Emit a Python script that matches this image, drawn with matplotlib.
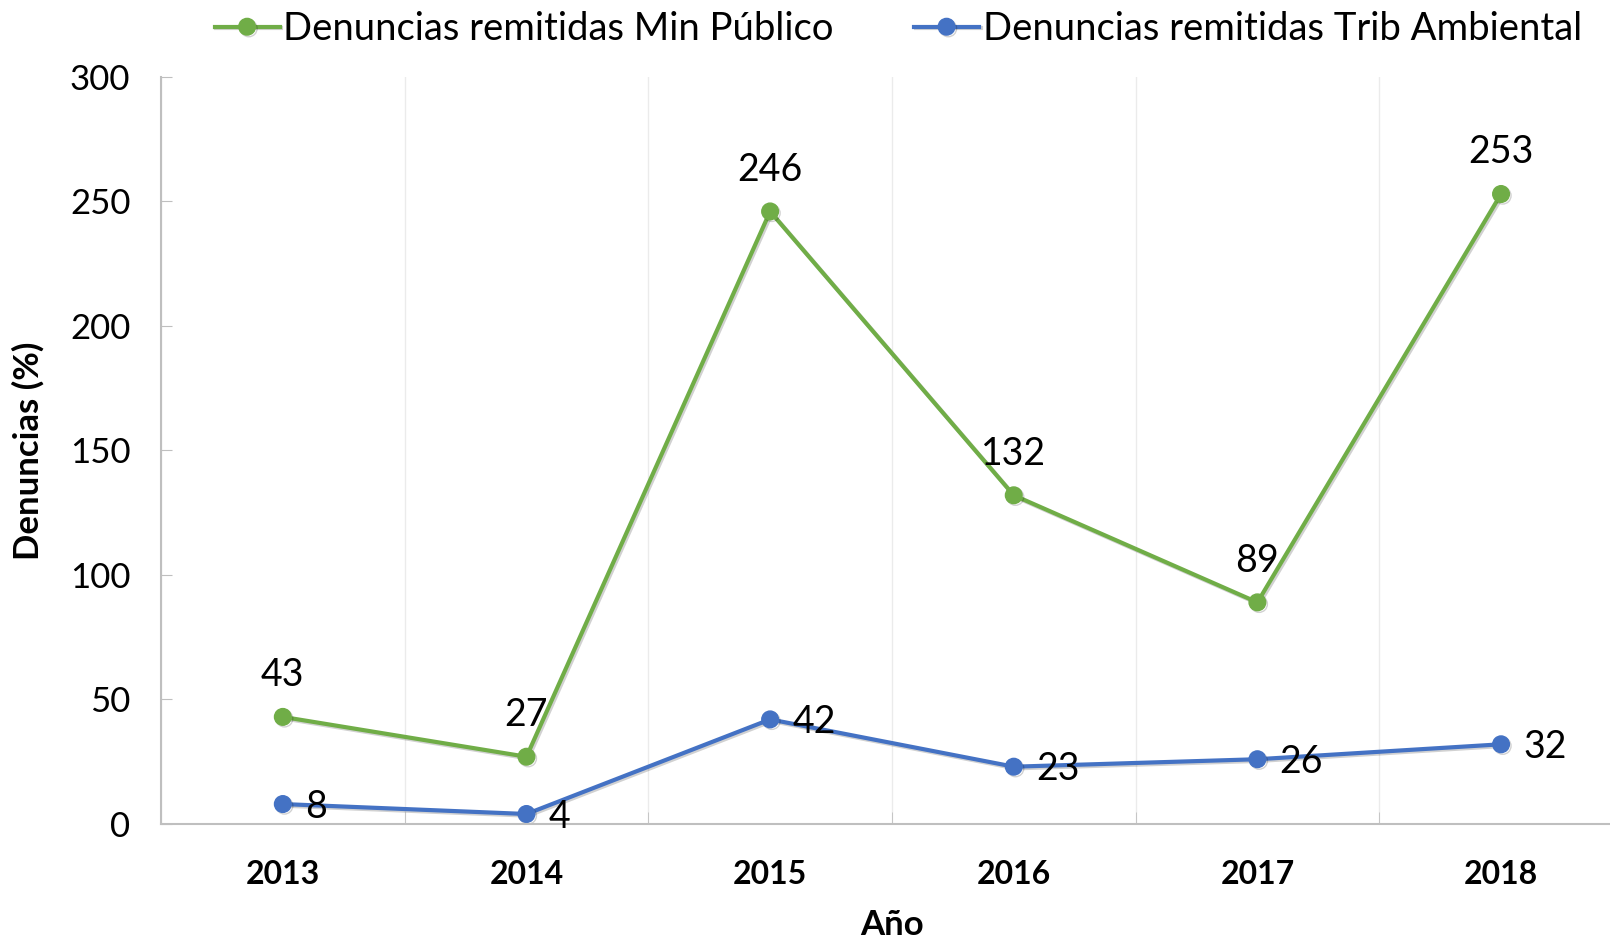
import matplotlib
matplotlib.use("Agg")
import matplotlib.pyplot as plt
import matplotlib.patheffects as pe
from matplotlib.ticker import MultipleLocator

plt.rcParams['font.family'] = ['Lato', 'DejaVu Sans']

years = ['2013', '2014', '2015', '2016', '2017', '2018']
min_publico = [43, 27, 246, 132, 89, 253]
trib_ambiental = [8, 4, 42, 23, 26, 32]

green = '#70AD47'
blue = '#4472C4'

fig = plt.figure(figsize=(16.1, 9.39), dpi=100)
ax = fig.add_axes([0.1, 0.1225, 0.908, 0.7955])

x = list(range(len(years)))
shadow = [pe.SimpleLineShadow(offset=(1.2, -1.2), alpha=0.18), pe.Normal()]

l1, = ax.plot(x, min_publico, color=green, lw=3, marker='o', ms=12,
              label='Denuncias remitidas Min Público', path_effects=shadow)
l2, = ax.plot(x, trib_ambiental, color=blue, lw=3, marker='o', ms=12,
              label='Denuncias remitidas Trib Ambiental', path_effects=shadow)

# value labels: green above, blue to the right
for xi, v in zip(x, min_publico):
    ax.annotate(str(v), (xi, v), xytext=(0, 17), textcoords='offset points',
                ha='center', va='bottom', fontsize=27)
for xi, v in zip(x, trib_ambiental):
    ax.annotate(str(v), (xi, v), xytext=(16, -2), textcoords='offset points',
                ha='left', va='center', fontsize=27)

ax.set_xlim(-0.5, 5.5)
ax.set_ylim(0, 300)
ax.set_xticks(x)
ax.set_xticklabels(years, fontsize=23, fontweight='bold')
ax.xaxis.set_minor_locator(MultipleLocator(1, offset=0.5))
ax.yaxis.set_major_locator(MultipleLocator(50))
ax.tick_params(axis='x', which='major', length=0, pad=26)
ax.tick_params(axis='x', which='minor', length=9, direction='in', color='#BFBFBF')
ax.tick_params(axis='y', length=8, direction='in', color='#BFBFBF', labelsize=25, pad=22)
ax.grid(axis='x', which='minor', color='#EBEBEB', lw=1)

for s in ['top', 'right']:
    ax.spines[s].set_visible(False)
for s in ['left', 'bottom']:
    ax.spines[s].set_color('#BFBFBF')
    ax.spines[s].set_linewidth(1.5)

ax.set_xlabel('Año', fontsize=25, fontweight='bold', labelpad=14)
ax.set_ylabel('Denuncias (%)', fontsize=25, fontweight='bold', labelpad=18)

fig.legend(handles=[l1, l2], loc='center', bbox_to_anchor=(0.558, 0.969), ncol=2,
           frameon=False, fontsize=27.5, handlelength=1.7, handletextpad=0.1,
           columnspacing=2.1)

fig.savefig('out.png', dpi=100)
